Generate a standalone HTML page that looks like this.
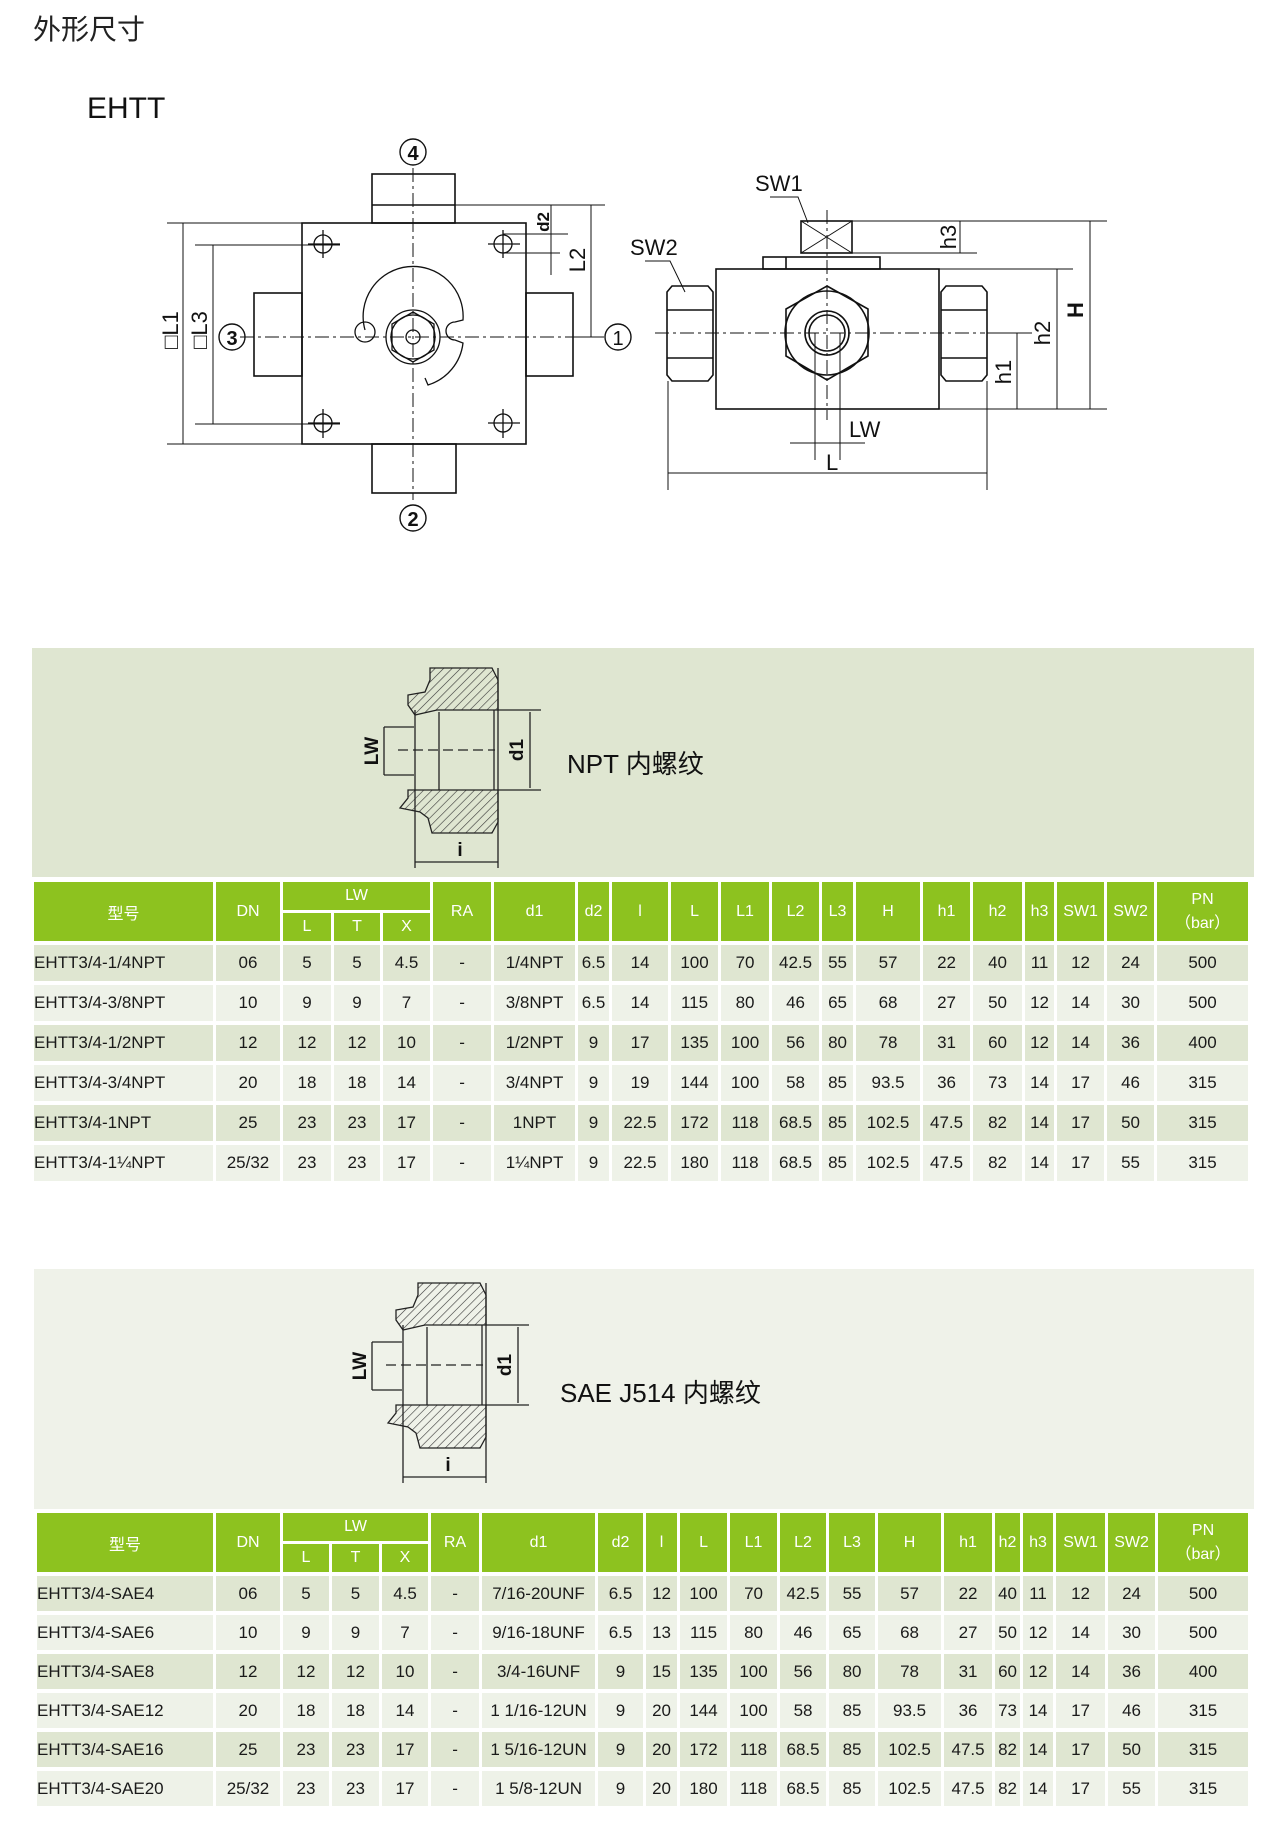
<!DOCTYPE html>
<html><head><meta charset="utf-8">
<style>
body{margin:0;width:1266px;height:1828px;background:#fff;position:relative;overflow:hidden;font-family:"Liberation Sans","Noto Sans CJK SC",sans-serif;}
.abs{position:absolute;}
table{position:absolute;border-collapse:separate;border-spacing:0;table-layout:fixed;font-size:17px;color:#1a1a1a;}
td{border-left:3px solid #fff;border-top:4px solid #fff;text-align:center;padding:0;white-space:nowrap;overflow:hidden;}
tr.h td{background:#8dc21f;color:#fff;font-size:16px;border-top:0;}
tr.h2 td{border-top:3px solid #fff;}
tr.a td{background:#dfe6d1;}
tr.b td{background:#eef2e8;}
td.n{text-align:left;}
</style></head><body>
<div class="abs" style="left:33px;top:8px;font-size:28px;color:#222;">外形尺寸</div>
<div class="abs" style="left:87px;top:92px;font-size:30px;color:#111;">EHTT</div>
<div class="abs" style="left:32px;top:648px;width:1222px;height:229px;background:#dfe6d1;"></div>
<div class="abs" style="left:34px;top:1269px;width:1220px;height:240px;background:#eff2e9;"></div>

<svg class="abs" style="left:0;top:0" width="1266" height="1828" viewBox="0 0 1266 1828" font-family="Liberation Sans, sans-serif">
<defs>
<pattern id="hat" width="6" height="6" patternUnits="userSpaceOnUse" patternTransform="rotate(45)">
<line x1="0" y1="0" x2="0" y2="6" stroke="#333" stroke-width="1.2"/></pattern>
</defs>
<g stroke="#111" stroke-width="1.6" fill="none">
<rect x="302" y="223" width="224" height="221"/>
<rect x="372" y="174" width="83" height="49"/><line x1="372" y1="205" x2="455" y2="205"/>
<rect x="372" y="444" width="84" height="49"/>
<rect x="254" y="293" width="48" height="83"/>
<rect x="526" y="293" width="47" height="83"/>
<g stroke-width="1"><line x1="167" y1="223" x2="302" y2="223"/><line x1="167" y1="444" x2="302" y2="444"/>
<line x1="183" y1="223" x2="183" y2="444"/>
<line x1="195" y1="245" x2="340" y2="245"/><line x1="195" y1="424" x2="340" y2="424"/>
<line x1="213" y1="245" x2="213" y2="424"/>
<line x1="455" y1="205" x2="605" y2="205"/><line x1="591" y1="205" x2="591" y2="337"/>
<line x1="503" y1="234" x2="568" y2="234"/><line x1="503" y1="253" x2="560" y2="253"/>
<line x1="551" y1="205" x2="551" y2="275"/>
<line x1="573" y1="337" x2="604" y2="337"/>
</g>
<g stroke-width="1" stroke-dasharray="14,4,3,4">
<line x1="240" y1="337" x2="600" y2="337"/><line x1="413" y1="168" x2="413" y2="500"/></g>
<g stroke-width="1.3">
<circle cx="323" cy="244" r="9"/><circle cx="503" cy="244" r="9"/><circle cx="323" cy="423" r="9"/><circle cx="503" cy="423" r="9"/>
<line x1="308" y1="244" x2="340" y2="244"/><line x1="323" y1="230" x2="323" y2="258"/>
<line x1="488" y1="244" x2="520" y2="244"/><line x1="503" y1="230" x2="503" y2="258"/>
<line x1="308" y1="423" x2="340" y2="423"/><line x1="323" y1="409" x2="323" y2="438"/>
<line x1="488" y1="423" x2="520" y2="423"/><line x1="503" y1="409" x2="503" y2="438"/>
<path d="M365 330 A50 50 0 1 1 463 320 L455 322 A8 8 0 0 0 455 340 L463 343 A50 50 0 0 1 428 385 L425 378"/>
<circle cx="365" cy="332" r="10"/>
<circle cx="413" cy="337" r="27"/><circle cx="413" cy="337" r="22"/><circle cx="413" cy="337" r="7"/>
<polygon points="413,312 434,324 434,350 413,362 392,350 392,324"/>
</g>
<g stroke-width="1.4"><circle cx="413" cy="152" r="13"/><circle cx="413" cy="518" r="13"/><circle cx="232" cy="337" r="13"/><circle cx="618" cy="337" r="13"/></g>

<rect x="716" y="269" width="223" height="140"/>
<rect x="763" y="257" width="117" height="12"/><line x1="786" y1="257" x2="786" y2="269"/>
<rect x="801" y="221" width="51" height="32"/>
<g stroke-width="1"><line x1="801" y1="221" x2="852" y2="253"/><line x1="852" y1="221" x2="801" y2="253"/></g>
<path d="M672 286 L708 286 L713 292 L713 375 L708 381 L672 381 L667 375 L667 292 Z"/>
<line x1="667" y1="310" x2="713" y2="310"/><line x1="667" y1="358" x2="713" y2="358"/>
<path d="M946 286 L982 286 L987 292 L987 375 L982 381 L946 381 L941 375 L941 292 Z"/>
<line x1="941" y1="310" x2="987" y2="310"/><line x1="941" y1="358" x2="987" y2="358"/>
<polygon points="827,286 868,309 868,356 827,380 786,356 786,309"/>
<circle cx="827" cy="333" r="42"/><circle cx="827" cy="333" r="22"/><circle cx="827" cy="333" r="18"/>
<g stroke-width="1">
<line x1="815" y1="333" x2="815" y2="460"/><line x1="840" y1="333" x2="840" y2="460"/>
<line x1="790" y1="443" x2="865" y2="443"/>
<line x1="668" y1="381" x2="668" y2="490"/><line x1="987" y1="381" x2="987" y2="490"/>
<line x1="668" y1="473" x2="987" y2="473"/>
<line x1="852" y1="221" x2="1107" y2="221"/><line x1="852" y1="253" x2="977" y2="253"/>
<line x1="960" y1="221" x2="960" y2="253"/>
<line x1="939" y1="269" x2="1073" y2="269"/><line x1="939" y1="409" x2="1107" y2="409"/>
<line x1="1090" y1="221" x2="1090" y2="409"/><line x1="1057" y1="269" x2="1057" y2="409"/>
<line x1="987" y1="333" x2="1032" y2="333"/><line x1="1017" y1="333" x2="1017" y2="409"/>
<polyline points="770,197 798,197 808,223"/><polyline points="645,261 670,261 685,292"/>
</g>
<g stroke-width="1" stroke-dasharray="14,4,3,4"><line x1="655" y1="333" x2="985" y2="333"/><line x1="827" y1="210" x2="827" y2="420"/></g>
</g>
<g fill="#111" font-size="22">
<text x="413" y="160" text-anchor="middle" font-size="20" font-weight="bold">4</text>
<text x="413" y="526" text-anchor="middle" font-size="20" font-weight="bold">2</text>
<text x="232" y="345" text-anchor="middle" font-size="20" font-weight="bold">3</text>
<text x="618" y="345" text-anchor="middle" font-size="20">1</text>
<text transform="translate(178,330) rotate(-90)" text-anchor="middle">□L1</text>
<text transform="translate(207,330) rotate(-90)" text-anchor="middle">□L3</text>
<text transform="translate(549,222) rotate(-90)" text-anchor="middle" font-size="17" font-weight="bold">d2</text>
<text transform="translate(585,260) rotate(-90)" text-anchor="middle">L2</text>
<text x="755" y="191">SW1</text>
<text x="630" y="255">SW2</text>
<text transform="translate(956,237) rotate(-90)" text-anchor="middle">h3</text>
<text transform="translate(1083,310) rotate(-90)" text-anchor="middle" font-weight="bold">H</text>
<text transform="translate(1050,333) rotate(-90)" text-anchor="middle">h2</text>
<text transform="translate(1011,372) rotate(-90)" text-anchor="middle">h1</text>
<text x="849" y="437">LW</text>
<text x="826" y="470">L</text>
</g>

<g id="sec">
<path d="M430 668 L492 668 L498 680 L498 710 L437 710 L415 715 L408 705 L408 695 L425 692 L430 680 Z" fill="url(#hat)" stroke="#222" stroke-width="1.3"/>
<path d="M408 790 L498 790 L498 822 L492 833 L432 833 L428 818 L420 812 L400 808 L408 798 Z" fill="url(#hat)" stroke="#222" stroke-width="1.3"/>
<g stroke="#222" stroke-width="1.3" fill="none">
<line x1="415" y1="710" x2="415" y2="790"/><line x1="439" y1="712" x2="439" y2="790"/><line x1="494" y1="710" x2="494" y2="790"/>
<line x1="498" y1="668" x2="498" y2="868"/>
<line x1="498" y1="710" x2="541" y2="710"/><line x1="498" y1="790" x2="541" y2="790"/>
<line x1="530" y1="712" x2="530" y2="788"/>
<line x1="384" y1="727" x2="414" y2="727"/><line x1="384" y1="775" x2="414" y2="775"/><line x1="384" y1="727" x2="384" y2="775"/>
<line x1="415" y1="790" x2="415" y2="868"/><line x1="415" y1="862" x2="498" y2="862"/>
<line x1="398" y1="750" x2="495" y2="750" stroke-dasharray="10,5"/>
</g>
<g fill="#111" font-weight="bold" font-size="19">
<text transform="translate(378,751) rotate(-90)" text-anchor="middle">LW</text>
<text transform="translate(523,750) rotate(-90)" text-anchor="middle">d1</text>
<text x="460" y="856" text-anchor="middle">i</text>
</g>
</g>
<text x="567" y="773" font-size="26" fill="#111" font-family="Liberation Sans, Noto Sans CJK SC, sans-serif">NPT 内螺纹</text>
<use href="#sec" transform="translate(-12,615)"/>
<text x="560" y="1402" font-size="26" fill="#111" font-family="Liberation Sans, Noto Sans CJK SC, sans-serif">SAE J514 内螺纹</text>
</svg>

<table style="left:31px;top:882px;width:1217px;">
<colgroup><col style="width:182px"><col style="width:67px"><col style="width:51px"><col style="width:49px"><col style="width:50px"><col style="width:61px"><col style="width:84px"><col style="width:34px"><col style="width:59px"><col style="width:50px"><col style="width:51px"><col style="width:50px"><col style="width:34px"><col style="width:67px"><col style="width:50px"><col style="width:52px"><col style="width:32px"><col style="width:50px"><col style="width:50px"><col style="width:94px"></colgroup>
<tr class="h" style="height:28px"><td rowspan="2">型号</td><td rowspan="2">DN</td><td colspan="3">LW</td><td rowspan="2">RA</td><td rowspan="2">d1</td><td rowspan="2">d2</td><td rowspan="2">l</td><td rowspan="2">L</td><td rowspan="2">L1</td><td rowspan="2">L2</td><td rowspan="2">L3</td><td rowspan="2">H</td><td rowspan="2">h1</td><td rowspan="2">h2</td><td rowspan="2">h3</td><td rowspan="2">SW1</td><td rowspan="2">SW2</td><td rowspan="2">PN<br>（bar）</td></tr>
<tr class="h h2" style="height:31px"><td>L</td><td>T</td><td>X</td></tr>
<tr class="a" style="height:40px"><td class="n">EHTT3/4-1/4NPT</td><td>06</td><td>5</td><td>5</td><td>4.5</td><td>-</td><td>1/4NPT</td><td>6.5</td><td>14</td><td>100</td><td>70</td><td>42.5</td><td>55</td><td>57</td><td>22</td><td>40</td><td>11</td><td>12</td><td>24</td><td>500</td></tr>
<tr class="b" style="height:40px"><td class="n">EHTT3/4-3/8NPT</td><td>10</td><td>9</td><td>9</td><td>7</td><td>-</td><td>3/8NPT</td><td>6.5</td><td>14</td><td>115</td><td>80</td><td>46</td><td>65</td><td>68</td><td>27</td><td>50</td><td>12</td><td>14</td><td>30</td><td>500</td></tr>
<tr class="a" style="height:40px"><td class="n">EHTT3/4-1/2NPT</td><td>12</td><td>12</td><td>12</td><td>10</td><td>-</td><td>1/2NPT</td><td>9</td><td>17</td><td>135</td><td>100</td><td>56</td><td>80</td><td>78</td><td>31</td><td>60</td><td>12</td><td>14</td><td>36</td><td>400</td></tr>
<tr class="b" style="height:40px"><td class="n">EHTT3/4-3/4NPT</td><td>20</td><td>18</td><td>18</td><td>14</td><td>-</td><td>3/4NPT</td><td>9</td><td>19</td><td>144</td><td>100</td><td>58</td><td>85</td><td>93.5</td><td>36</td><td>73</td><td>14</td><td>17</td><td>46</td><td>315</td></tr>
<tr class="a" style="height:40px"><td class="n">EHTT3/4-1NPT</td><td>25</td><td>23</td><td>23</td><td>17</td><td>-</td><td>1NPT</td><td>9</td><td>22.5</td><td>172</td><td>118</td><td>68.5</td><td>85</td><td>102.5</td><td>47.5</td><td>82</td><td>14</td><td>17</td><td>50</td><td>315</td></tr>
<tr class="b" style="height:40px"><td class="n">EHTT3/4-1¼NPT</td><td>25/32</td><td>23</td><td>23</td><td>17</td><td>-</td><td>1¼NPT</td><td>9</td><td>22.5</td><td>180</td><td>118</td><td>68.5</td><td>85</td><td>102.5</td><td>47.5</td><td>82</td><td>14</td><td>17</td><td>55</td><td>315</td></tr>
</table>

<table style="left:34px;top:1513px;width:1214px;">
<colgroup><col style="width:179px"><col style="width:67px"><col style="width:49px"><col style="width:50px"><col style="width:49px"><col style="width:51px"><col style="width:116px"><col style="width:48px"><col style="width:34px"><col style="width:50px"><col style="width:50px"><col style="width:49px"><col style="width:49px"><col style="width:66px"><col style="width:51px"><col style="width:28px"><col style="width:33px"><col style="width:52px"><col style="width:50px"><col style="width:93px"></colgroup>
<tr class="h" style="height:28px"><td rowspan="2">型号</td><td rowspan="2">DN</td><td colspan="3">LW</td><td rowspan="2">RA</td><td rowspan="2">d1</td><td rowspan="2">d2</td><td rowspan="2">l</td><td rowspan="2">L</td><td rowspan="2">L1</td><td rowspan="2">L2</td><td rowspan="2">L3</td><td rowspan="2">H</td><td rowspan="2">h1</td><td rowspan="2">h2</td><td rowspan="2">h3</td><td rowspan="2">SW1</td><td rowspan="2">SW2</td><td rowspan="2">PN<br>（bar）</td></tr>
<tr class="h h2" style="height:31px"><td>L</td><td>T</td><td>X</td></tr>
<tr class="a" style="height:39px"><td class="n">EHTT3/4-SAE4</td><td>06</td><td>5</td><td>5</td><td>4.5</td><td>-</td><td>7/16-20UNF</td><td>6.5</td><td>12</td><td>100</td><td>70</td><td>42.5</td><td>55</td><td>57</td><td>22</td><td>40</td><td>11</td><td>12</td><td>24</td><td>500</td></tr>
<tr class="b" style="height:39px"><td class="n">EHTT3/4-SAE6</td><td>10</td><td>9</td><td>9</td><td>7</td><td>-</td><td>9/16-18UNF</td><td>6.5</td><td>13</td><td>115</td><td>80</td><td>46</td><td>65</td><td>68</td><td>27</td><td>50</td><td>12</td><td>14</td><td>30</td><td>500</td></tr>
<tr class="a" style="height:39px"><td class="n">EHTT3/4-SAE8</td><td>12</td><td>12</td><td>12</td><td>10</td><td>-</td><td>3/4-16UNF</td><td>9</td><td>15</td><td>135</td><td>100</td><td>56</td><td>80</td><td>78</td><td>31</td><td>60</td><td>12</td><td>14</td><td>36</td><td>400</td></tr>
<tr class="b" style="height:39px"><td class="n">EHTT3/4-SAE12</td><td>20</td><td>18</td><td>18</td><td>14</td><td>-</td><td>1 1/16-12UN</td><td>9</td><td>20</td><td>144</td><td>100</td><td>58</td><td>85</td><td>93.5</td><td>36</td><td>73</td><td>14</td><td>17</td><td>46</td><td>315</td></tr>
<tr class="a" style="height:39px"><td class="n">EHTT3/4-SAE16</td><td>25</td><td>23</td><td>23</td><td>17</td><td>-</td><td>1 5/16-12UN</td><td>9</td><td>20</td><td>172</td><td>118</td><td>68.5</td><td>85</td><td>102.5</td><td>47.5</td><td>82</td><td>14</td><td>17</td><td>50</td><td>315</td></tr>
<tr class="b" style="height:39px"><td class="n">EHTT3/4-SAE20</td><td>25/32</td><td>23</td><td>23</td><td>17</td><td>-</td><td>1 5/8-12UN</td><td>9</td><td>20</td><td>180</td><td>118</td><td>68.5</td><td>85</td><td>102.5</td><td>47.5</td><td>82</td><td>14</td><td>17</td><td>55</td><td>315</td></tr>
</table>
</body></html>
